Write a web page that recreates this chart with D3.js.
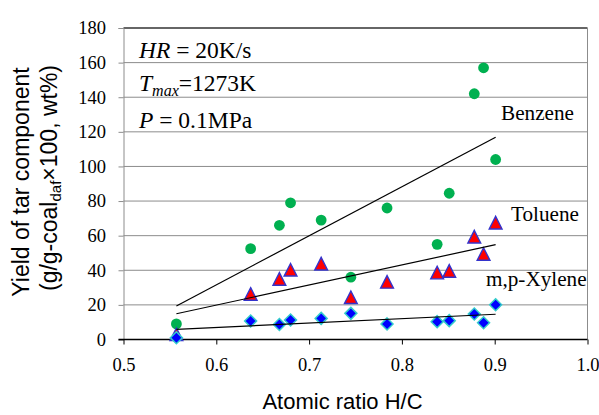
<!DOCTYPE html>
<html>
<head>
<meta charset="utf-8">
<script src="https://cdn.jsdelivr.net/npm/d3@7"></script>
<style>
  html, body { margin: 0; padding: 0; background: #fff; }
  svg { display: block; }
</style>
</head>
<body>
<svg id="chart" width="599" height="415"></svg>
<script>
// ---- Data ----
const hcRatio  = [0.557, 0.637, 0.668, 0.680, 0.713, 0.745, 0.784, 0.838, 0.851, 0.878, 0.888, 0.901];
const benzene  = [9, 52.5, 66, 79, 69, 36, 76, 55, 84.5, 142, 157, 104];
const toluene  = [3, 26.3, 35, 40.3, 43.8, 24.4, 33.3, 38.7, 39.6, 59.4, 49.4, 67.5];
const xylene   = [1, 10.7, 8.7, 11.3, 12.2, 15.1, 9, 10.3, 10.9, 14.7, 9.7, 20.1];
// trend line endpoints [x0, x1], [y0, y1]
const trendX        = [0.557, 0.901];
const benzeneTrend  = [19.4, 116.9];
const tolueneTrend  = [14.9, 54.8];
const xyleneTrend   = [5.9, 14.6];
const xTicks = [0.5, 0.6, 0.7, 0.8, 0.9, 1.0];
const yTicks = [0, 20, 40, 60, 80, 100, 120, 140, 160, 180];
const seriesNames = ["Benzene", "Toluene", "m,p-Xylene"];

// ---- Layout ----
const svg = d3.select("#chart");
const L = 123.5, R = 587.5, T = 28, B = 339.5;
const x = d3.scaleLinear().domain([0.5, 1.0]).range([L, R]);
const y = d3.scaleLinear().domain([0, 180]).range([B, T]);
const serif = "Liberation Serif, Times New Roman, serif";
const sans = "Liberation Sans, Arial, sans-serif";

// gridlines
svg.append("g").selectAll("line")
  .data(yTicks.filter(v => v > 0 && v < 180))
  .join("line")
  .attr("x1", L).attr("x2", R)
  .attr("y1", d => y(d)).attr("y2", d => y(d))
  .attr("stroke", "#8c8c8c").attr("stroke-width", 1);

// frame: top (dark), right (gray)
svg.append("line").attr("x1", L).attr("x2", R).attr("y1", T).attr("y2", T)
  .attr("stroke", "#333").attr("stroke-width", 1.5);
svg.append("line").attr("x1", R).attr("x2", R).attr("y1", T).attr("y2", B)
  .attr("stroke", "#8c8c8c").attr("stroke-width", 1);

// y axis
const yAxis = svg.append("g").attr("transform", `translate(${L},0)`)
  .call(d3.axisLeft(y).tickValues(yTicks).tickSize(5).tickPadding(12.5).tickFormat(d3.format("d")));
yAxis.attr("font-family", serif).attr("font-size", 18.5);
yAxis.select(".domain").attr("stroke", "#8c8c8c");
yAxis.selectAll(".tick line").attr("stroke", "#8c8c8c");
yAxis.selectAll("text").style("font-family", serif).style("font-size", "18.5px").attr("fill", "#000");

// x axis
const xAxis = svg.append("g").attr("transform", `translate(0,${B})`)
  .call(d3.axisBottom(x).tickValues(xTicks).tickSize(5).tickPadding(13).tickFormat(d3.format(".1f")));
xAxis.attr("font-family", serif).attr("font-size", 18.5);
xAxis.select(".domain").remove();
xAxis.selectAll(".tick line").attr("stroke", "#000");
xAxis.selectAll("text").style("font-family", serif).style("font-size", "18.5px").attr("fill", "#000");
svg.append("line").attr("x1", L - 5).attr("x2", R).attr("y1", B).attr("y2", B)
  .attr("stroke", "#000").attr("stroke-width", 1.5);

// ---- Markers ----
const pts = (ys) => hcRatio.map((v, i) => [v, ys[i]]);
svg.append("g").selectAll("circle").data(pts(benzene)).join("circle")
  .attr("cx", d => x(d[0])).attr("cy", d => y(d[1])).attr("r", 5.4)
  .attr("fill", "#00b050");

const triPath = "M0,-6.3L6.4,6.3L-6.4,6.3Z";
svg.append("g").selectAll("path").data(pts(toluene)).join("path")
  .attr("d", triPath)
  .attr("transform", d => `translate(${x(d[0])},${y(d[1])})`)
  .attr("fill", "#ff0000").attr("stroke", "#3333cc").attr("stroke-width", 1.4)
  .attr("stroke-linejoin", "miter");

const diaPath = "M0,-6L6,0L0,6L-6,0Z";
svg.append("g").selectAll("path").data(pts(xylene)).join("path")
  .attr("d", diaPath)
  .attr("transform", d => `translate(${x(d[0])},${y(d[1])})`)
  .attr("fill", "#0000ff").attr("stroke", "#33cccc").attr("stroke-width", 1.5);

// ---- Trend lines ----
const line = d3.line().x(d => x(d[0])).y(d => y(d[1]));
[benzeneTrend, tolueneTrend, xyleneTrend].forEach(tr => {
  svg.append("path").datum(trendX.map((v, i) => [v, tr[i]]))
    .attr("d", line).attr("fill", "none").attr("stroke", "#000").attr("stroke-width", 1.2);
});

// ---- Series labels ----
const labelPos = [[501, 120], [511, 221], [486, 286]];
svg.append("g").selectAll("text").data(seriesNames).join("text")
  .attr("x", (d, i) => labelPos[i][0]).attr("y", (d, i) => labelPos[i][1])
  .style("font-family", serif).style("font-size", "21.2px").attr("fill", "#000")
  .text(d => d);

// ---- Annotation ----
const ann = svg.append("g").style("font-family", serif).style("font-size", "23.5px").attr("fill", "#000");
const a1 = ann.append("text").attr("x", 139).attr("y", 58);
a1.append("tspan").attr("font-style", "italic").text("HR");
a1.append("tspan").text(" = 20K/s");
const a2 = ann.append("text").attr("x", 139).attr("y", 91);
a2.append("tspan").attr("font-style", "italic").text("T");
a2.append("tspan").attr("font-style", "italic").style("font-size", "16px").attr("dy", 5).text("max");
a2.append("tspan").attr("dy", -5).text("=1273K");
const a3 = ann.append("text").attr("x", 139).attr("y", 128);
a3.append("tspan").attr("font-style", "italic").text("P");
a3.append("tspan").text(" = 0.1MPa");

// ---- Axis titles ----
svg.append("text").attr("x", 342.5).attr("y", 409)
  .attr("text-anchor", "middle").style("font-family", sans).style("font-size", "22px")
  .attr("fill", "#000").text("Atomic ratio H/C");

const yt = svg.append("g").style("font-family", sans).style("font-size", "23px").attr("fill", "#000");
yt.append("text").attr("transform", "translate(29,182) rotate(-90)")
  .attr("text-anchor", "middle").text("Yield of tar component");
const yt2 = yt.append("text").attr("transform", "translate(57,178) rotate(-90)")
  .attr("text-anchor", "middle");
yt2.append("tspan").text("(g/g-coal");
yt2.append("tspan").style("font-size", "15px").attr("dy", 4).text("daf");
yt2.append("tspan").attr("dy", -4).text("×100, wt%)");
</script>
</body>
</html>
